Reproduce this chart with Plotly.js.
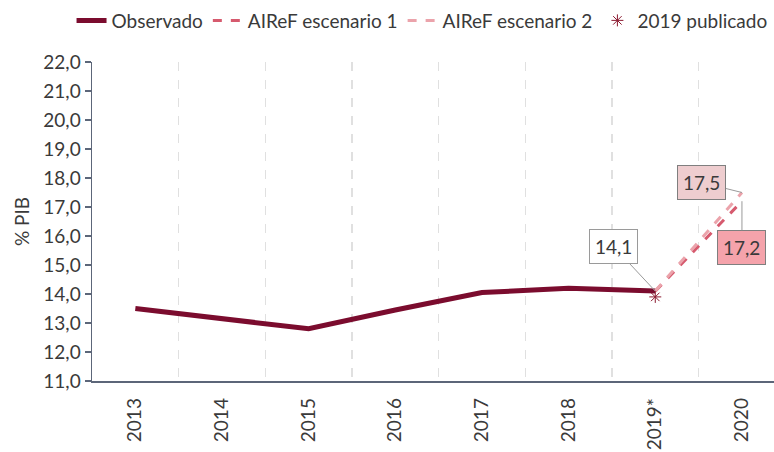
<!DOCTYPE html>
<html>
<head>
<meta charset="utf-8">
<script src="https://cdn.plot.ly/plotly-3.0.1.min.js"></script>
<style>html,body{margin:0;padding:0;background:#fff;}#chart{width:774px;height:452px;}</style>
</head>
<body>
<div id="chart"></div>
<script>
var categories = ["2013","2014","2015","2016","2017","2018","2019*","2020"];
var observado = [13.5, 13.15, 12.8, 13.45, 14.05, 14.2, 14.1, null];
var escenario1 = [null, null, null, null, null, null, 14.1, 17.2];
var escenario2 = [null, null, null, null, null, null, 14.1, 17.5];
var publicado2019 = [null, null, null, null, null, null, 13.9, null];
var yTicks = [11,12,13,14,15,16,17,18,19,20,21,22];

var FONT = "Lato, 'Liberation Sans Narrow', sans-serif";
var TXT = "#3a3a3a";

function fmt(v){ return v.toFixed(1).replace('.', ','); }

var traces = [
  {x: categories, y: observado, name: "Observado", type: "scatter", mode: "lines",
   line: {color: "#7B0C2E", width: 5}},
  {x: categories, y: escenario1, name: "AIReF escenario 1", type: "scatter", mode: "lines",
   line: {color: "#D65A6E", width: 3, dash: "dash"}},
  {x: categories, y: escenario2, name: "AIReF escenario 2", type: "scatter", mode: "lines",
   line: {color: "#EBA3AB", width: 3, dash: "dash"}},
  {x: categories, y: publicado2019, name: "2019 publicado", type: "scatter", mode: "markers",
   marker: {symbol: "asterisk-open", size: 10, color: "#8B1A30", line: {color: "#8B1A30", width: 1}}}
];

var i19 = categories.indexOf("2019*");
var i20 = categories.indexOf("2020");

var annotations = [
  {x: i19, y: observado[i19], text: fmt(observado[i19]), ax: -42, ay: -45,
   bgcolor: "#ffffff", bordercolor: "#9a9a9a", borderwidth: 1, borderpad: 5},
  {x: i20, y: escenario2[i20], text: fmt(escenario2[i20]), ax: -40, ay: -10,
   bgcolor: "#EECDCF", bordercolor: "#7f7f7f", borderwidth: 1, borderpad: 5},
  {x: i20, y: escenario1[i20], text: fmt(escenario1[i20]), ax: 0, ay: 46,
   bgcolor: "#F5A3AB", bordercolor: "#7f7f7f", borderwidth: 1, borderpad: 5}
].map(function(a){
  a.xref = "x"; a.yref = "y"; a.showarrow = true; a.arrowhead = 0; a.arrowwidth = 1;
  a.arrowcolor = "#9a9a9a"; a.font = {family: FONT, size: 19, color: TXT};
  return a;
});

var layout = {
  width: 774, height: 452,
  margin: {l: 92, r: 0, t: 62, b: 71, pad: 0},
  paper_bgcolor: "#ffffff", plot_bgcolor: "#ffffff",
  separators: ",.",
  font: {family: FONT, size: 19, color: TXT},
  showlegend: true,
  legend: {orientation: "h", x: -0.03, xanchor: "left", y: 1.13, yanchor: "middle",
           font: {family: FONT, size: 19, color: TXT}, traceorder: "normal",
           bgcolor: "rgba(0,0,0,0)", itemwidth: 30},
  xaxis: {type: "category", categoryorder: "array", categoryarray: categories,
          range: [-0.5, 7.37], showline: true, linecolor: "#5C6679", linewidth: 1.5,
          showgrid: true, gridcolor: "#E0E0E0", griddash: "dash", gridwidth: 1.5,
          tickson: "boundaries", ticks: "", tickangle: -90, ticklabelstandoff: 8,
          tickfont: {family: FONT, size: 19, color: TXT}, automargin: false,
          zeroline: false, fixedrange: true},
  yaxis: {range: [11, 22], tickvals: yTicks, tickformat: ".1f",
          showline: true, linecolor: "#5C6679", linewidth: 1.5, showgrid: false,
          ticks: "outside", ticklen: 6, tickcolor: "#5C6679", tickwidth: 1.5,
          tickfont: {family: FONT, size: 19, color: TXT}, automargin: false,
          zeroline: false,
          title: {text: "% PIB", font: {family: FONT, size: 19, color: TXT}, standoff: 8}},
  annotations: annotations
};

Plotly.newPlot("chart", traces, layout, {displayModeBar: false, staticPlot: true});
</script>
</body>
</html>
